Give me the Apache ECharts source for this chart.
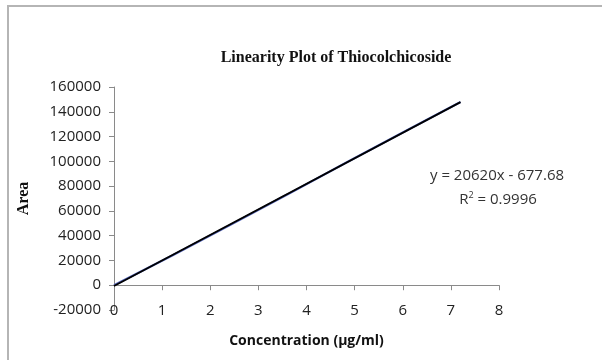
<!DOCTYPE html>
<html>
<head>
<meta charset="utf-8">
<script src="https://cdn.jsdelivr.net/npm/echarts@6/dist/echarts.min.js"></script>
<style>html,body{margin:0;padding:0;background:#fff;}#c{width:602px;height:360px;}</style>
</head>
<body>
<div id="c"></div>
<script>
// Data
const concentrations = [0, 1.2, 2.4, 3.6, 4.8, 6.0, 7.2];
const areas = [0, 23766, 48310, 73154, 98398, 123342, 147909];
const trendSlope = 20620;
const trendIntercept = -677.68;
const trendRange = [0, 7.2];
const yTicks = { min: -20000, max: 160000, interval: 20000 };
const xTicks = { min: 0, max: 8, interval: 1 };
const titleText = 'Linearity Plot of Thiocolchicoside';
const xName = 'Concentration (µg/ml)';
const yName = 'Area';
const equationText = 'y = 20620x - 677.68';
const r2Value = '0.9996';

const dataPairs = concentrations.map((x, i) => [x, areas[i]]);
const trendPairs = trendRange.map(x => [x, trendSlope * x + trendIntercept]);

const chart = echarts.init(document.getElementById('c'), null, { renderer: 'canvas' });
const labelFont = { fontFamily: 'Open Sans', fontSize: 15, color: '#222' };
chart.setOption({
  animation: false,
  backgroundColor: '#fff',
  title: {
    text: titleText,
    left: 331, top: 45, textAlign: 'center',
    textStyle: { fontFamily: 'Liberation Serif', fontWeight: 'bold', fontSize: 16, color: '#111' }
  },
  grid: { left: 114, right: 103, top: 87, bottom: 50, containLabel: false, outerBoundsMode: 'none' },
  xAxis: {
    type: 'value', min: xTicks.min, max: xTicks.max, interval: xTicks.interval,
    name: xName, nameLocation: 'middle', nameGap: 24,
    nameTextStyle: { fontFamily: 'Open Sans', fontWeight: 'bold', fontSize: 14, color: '#111' },
    axisLine: { onZero: true, lineStyle: { color: '#8a8a8a', width: 1 } },
    axisTick: { show: true, length: 5, lineStyle: { color: '#8a8a8a' } },
    axisLabel: Object.assign({ margin: -7, formatter: v => String(v) }, labelFont),
    splitLine: { show: false }
  },
  yAxis: {
    type: 'value', min: yTicks.min, max: yTicks.max, interval: yTicks.interval,
    name: yName, nameLocation: 'middle', nameGap: 82, nameRotate: 90,
    nameTextStyle: { fontFamily: 'Liberation Serif', fontWeight: 'bold', fontSize: 16, color: '#111' },
    axisLine: { show: true, onZero: false, lineStyle: { color: '#8a8a8a', width: 1 } },
    axisTick: { show: true, length: 5, lineStyle: { color: '#8a8a8a' } },
    axisLabel: Object.assign({ margin: 13, formatter: v => String(v) }, labelFont),
    splitLine: { show: false }
  },
  series: [
    {
      name: 'Area', type: 'line', data: dataPairs, showSymbol: false, symbol: 'none',
      lineStyle: { color: '#5566bb', width: 2.2 }, z: 2
    },
    {
      name: 'Linear', type: 'line', data: trendPairs, showSymbol: false, symbol: 'none',
      lineStyle: { color: '#000', width: 1.8 }, z: 3
    }
  ],
  graphic: [
    { type: 'rect', shape: { x: 8, y: 6, width: 700, height: 500 }, style: { fill: 'none', stroke: '#b5b5b5', lineWidth: 2 }, z: 0 },
    {
      type: 'text', x: 497, y: 176, z: 10,
      style: { text: equationText, align: 'center', verticalAlign: 'middle', font: '15px "Open Sans"', fill: '#333' }
    },
    {
      type: 'text', x: 498, y: 200, z: 10,
      style: {
        text: '{r|R}{s|2}{r| = ' + r2Value + '}', align: 'center', verticalAlign: 'middle',
        rich: {
          r: { fontFamily: 'Open Sans', fontSize: 15, fill: '#333', color: '#333' },
          s: { fontFamily: 'Open Sans', fontSize: 9, fill: '#333', color: '#333', verticalAlign: 'top', padding: [0, 0, 9, 0] }
        }
      }
    }
  ]
});
</script>
</body>
</html>
